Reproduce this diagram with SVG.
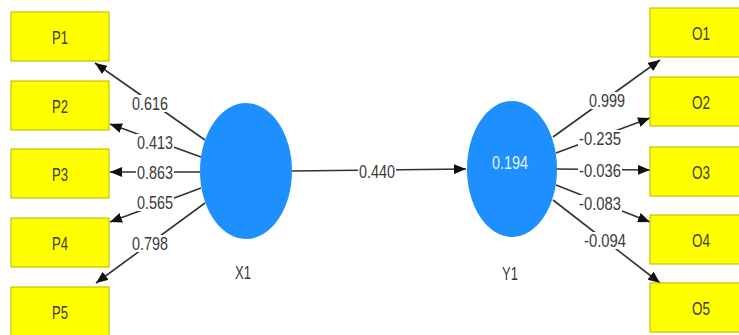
<svg xmlns="http://www.w3.org/2000/svg" width="739" height="335" viewBox="0 0 739 335">
<defs>
<marker id="ah" viewBox="0 0 12 10" refX="12" refY="5" markerWidth="12" markerHeight="10" markerUnits="userSpaceOnUse" orient="auto">
<path d="M0,0 L12,5 L0,10 z" fill="#111"/>
</marker>
<style>
.box{fill:#ffff00;stroke:#c4c400;stroke-width:1.2}
.lv{fill:#1e8fff}
.t{font-family:"Liberation Sans",Arial,sans-serif;font-size:19px;fill:#3a3a3a;text-anchor:middle}
.tw{font-family:"Liberation Sans",Arial,sans-serif;font-size:19px;fill:#e8f4ff;text-anchor:middle}
.ln{stroke:#333;stroke-width:1.6;fill:none;marker-end:url(#ah)}
.bg{fill:#fff}
</style>
</defs>
<rect width="739" height="335" fill="#fff"/>
<g id="connectors">
<line class="ln" x1="205" y1="140" x2="95" y2="63"/>
<line class="ln" x1="201" y1="157" x2="110" y2="124"/>
<line class="ln" x1="200" y1="172" x2="110" y2="172"/>
<line class="ln" x1="201" y1="188" x2="110" y2="222"/>
<line class="ln" x1="205" y1="203" x2="96" y2="283"/>
<line class="ln" x1="292" y1="171" x2="466" y2="169"/>
<line class="ln" x1="553" y1="137" x2="660" y2="60"/>
<line class="ln" x1="556" y1="153" x2="650" y2="118"/>
<line class="ln" x1="557" y1="169" x2="650" y2="170"/>
<line class="ln" x1="556" y1="185" x2="650" y2="222"/>
<line class="ln" x1="553" y1="200" x2="660" y2="283"/>
<g id="labels">
<rect class="bg" x="131" y="95" width="38" height="17"/><text class="t" x="150" y="110" textLength="36" lengthAdjust="spacingAndGlyphs">0.616</text>
<rect class="bg" x="136" y="134" width="38" height="17"/><text class="t" x="155" y="149" textLength="36" lengthAdjust="spacingAndGlyphs">0.413</text>
<rect class="bg" x="136" y="164" width="38" height="17"/><text class="t" x="155" y="179" textLength="36" lengthAdjust="spacingAndGlyphs">0.863</text>
<rect class="bg" x="136" y="194" width="38" height="17"/><text class="t" x="155" y="209" textLength="36" lengthAdjust="spacingAndGlyphs">0.565</text>
<rect class="bg" x="131" y="235" width="38" height="17"/><text class="t" x="150" y="250" textLength="36" lengthAdjust="spacingAndGlyphs">0.798</text>
<rect class="bg" x="358" y="163" width="38" height="17"/><text class="t" x="377" y="178" textLength="36" lengthAdjust="spacingAndGlyphs">0.440</text>
<rect class="bg" x="588" y="92" width="38" height="17"/><text class="t" x="607" y="107" textLength="36" lengthAdjust="spacingAndGlyphs">0.999</text>
<rect class="bg" x="578" y="130" width="44" height="17"/><text class="t" x="600" y="145" textLength="42" lengthAdjust="spacingAndGlyphs">-0.235</text>
<rect class="bg" x="578" y="162" width="44" height="17"/><text class="t" x="600" y="177" textLength="42" lengthAdjust="spacingAndGlyphs">-0.036</text>
<rect class="bg" x="578" y="195" width="44" height="17"/><text class="t" x="600" y="210" textLength="42" lengthAdjust="spacingAndGlyphs">-0.083</text>
<rect class="bg" x="583" y="232" width="44" height="17"/><text class="t" x="605" y="247" textLength="42" lengthAdjust="spacingAndGlyphs">-0.094</text>
</g>
</g>
<g id="P1"><rect class="box" x="11" y="12" width="98" height="49"/><text class="t" x="60" y="44" textLength="16" lengthAdjust="spacingAndGlyphs">P1</text></g>
<g id="P2"><rect class="box" x="11" y="81" width="98" height="49"/><text class="t" x="60" y="113" textLength="16" lengthAdjust="spacingAndGlyphs">P2</text></g>
<g id="P3"><rect class="box" x="11" y="149" width="98" height="49"/><text class="t" x="60" y="181" textLength="16" lengthAdjust="spacingAndGlyphs">P3</text></g>
<g id="P4"><rect class="box" x="11" y="218" width="98" height="49"/><text class="t" x="60" y="250" textLength="16" lengthAdjust="spacingAndGlyphs">P4</text></g>
<g id="P5"><rect class="box" x="11" y="287" width="98" height="49"/><text class="t" x="60" y="319" textLength="16" lengthAdjust="spacingAndGlyphs">P5</text></g>
<g id="O1"><rect class="box" x="650" y="8" width="98" height="49"/><text class="t" x="701" y="40" textLength="18" lengthAdjust="spacingAndGlyphs">O1</text></g>
<g id="O2"><rect class="box" x="650" y="77" width="98" height="49"/><text class="t" x="701" y="109" textLength="18" lengthAdjust="spacingAndGlyphs">O2</text></g>
<g id="O3"><rect class="box" x="650" y="147" width="98" height="49"/><text class="t" x="701" y="179" textLength="18" lengthAdjust="spacingAndGlyphs">O3</text></g>
<g id="O4"><rect class="box" x="650" y="215" width="98" height="49"/><text class="t" x="701" y="247" textLength="18" lengthAdjust="spacingAndGlyphs">O4</text></g>
<g id="O5"><rect class="box" x="650" y="283" width="98" height="49"/><text class="t" x="701" y="315" textLength="18" lengthAdjust="spacingAndGlyphs">O5</text></g>
<g id="X1"><ellipse class="lv" cx="246" cy="171" rx="46" ry="68"/><text class="t" x="243" y="279" textLength="16" lengthAdjust="spacingAndGlyphs">X1</text></g>
<g id="Y1"><ellipse class="lv" cx="512" cy="169" rx="45" ry="68"/><text class="tw" x="510" y="169" textLength="36" lengthAdjust="spacingAndGlyphs">0.194</text><text class="t" x="510" y="280" textLength="16" lengthAdjust="spacingAndGlyphs">Y1</text></g>
</svg>
